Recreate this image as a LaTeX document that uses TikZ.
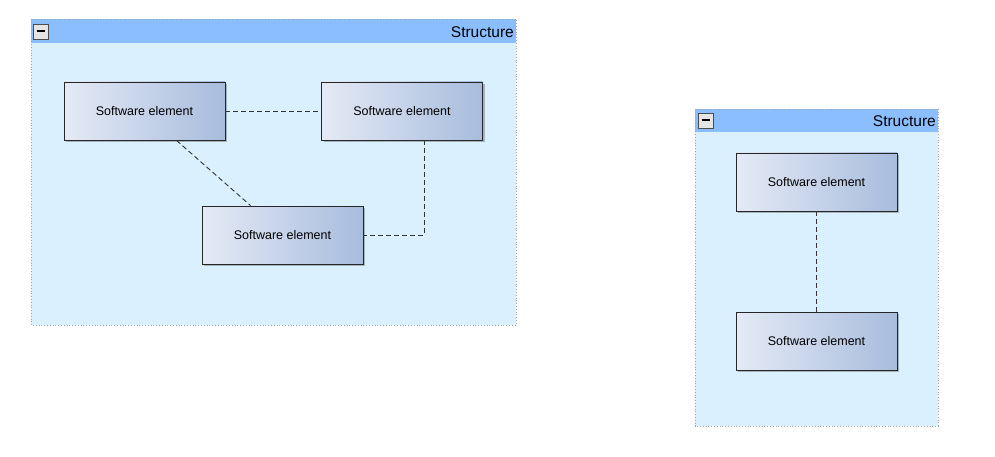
\documentclass[tikz,border=0pt]{standalone}
\usepackage{fontspec}
\setmainfont{Liberation Sans}
\usetikzlibrary{shadows}
\definecolor{hdr}{HTML}{8ABEFF}
\definecolor{bodyc}{HTML}{DAF0FF}
\definecolor{brd}{HTML}{9AA6B4}
\definecolor{elL}{HTML}{E4EAF5}
\definecolor{elR}{HTML}{A8BCDD}
\tikzset{
  elem/.style={draw=black!85, line width=0.9pt, minimum width=161pt, minimum height=58pt,
    inner sep=0pt, left color=elL, right color=elR,
    drop shadow={shadow xshift=2pt, shadow yshift=-2pt, fill=black, opacity=0.25},
    font=\fontsize{12.5}{14}\selectfont},
  conn/.style={draw=black!80, dashed, dash pattern=on 5pt off 3pt, line width=0.9pt},
  minusbtn/.style={draw=black!70, fill=black!10, minimum size=15pt, inner sep=0pt, line width=0.8pt},
  ttl/.style={anchor=east, inner sep=1pt, font=\fontsize{15.5}{17}\selectfont}
}
\begin{document}
\begin{tikzpicture}[x=1pt,y=-1pt]
\useasboundingbox (0,0) rectangle (995,457);
% container 1
\fill[bodyc] (31,19) rectangle (516,325);
\fill[hdr] (31,19) rectangle (516,43);
\draw[brd, dotted, line width=0.8pt] (31,19) rectangle (516,325);
\node[minusbtn] (m1) at (40.5,31.5) {};
\draw[line width=2pt] (36.5,31.5) -- (44.5,31.5);
\node[ttl] (t1) at (515,32) {Structure};
% container 2
\fill[bodyc] (695,109) rectangle (938,426);
\fill[hdr] (695,109) rectangle (938,132);
\draw[brd, dotted, line width=0.8pt] (695,109) rectangle (938,426);
\node[minusbtn] (m2) at (705.5,120.5) {};
\draw[line width=2pt] (701.5,120.5) -- (709.5,120.5);
\node[ttl] (t2) at (937,121) {Structure};
% elements
\node[elem] (A) at (144.5,111) {Software element};
\node[elem] (B) at (402,111) {Software element};
\node[elem] (C) at (282.5,235) {Software element};
\node[elem] (D) at (816.5,182) {Software element};
\node[elem] (E) at (816.5,341) {Software element};
% connectors
\draw[conn] (A.east) -- (B.west);
\draw[conn] ([xshift=32pt]A.south) -- ([xshift=-32pt]C.north);
\draw[conn] ([xshift=22pt]B.south) |- (C.east);
\draw[conn] (D.south) -- (E.north);
\end{tikzpicture}
\end{document}
